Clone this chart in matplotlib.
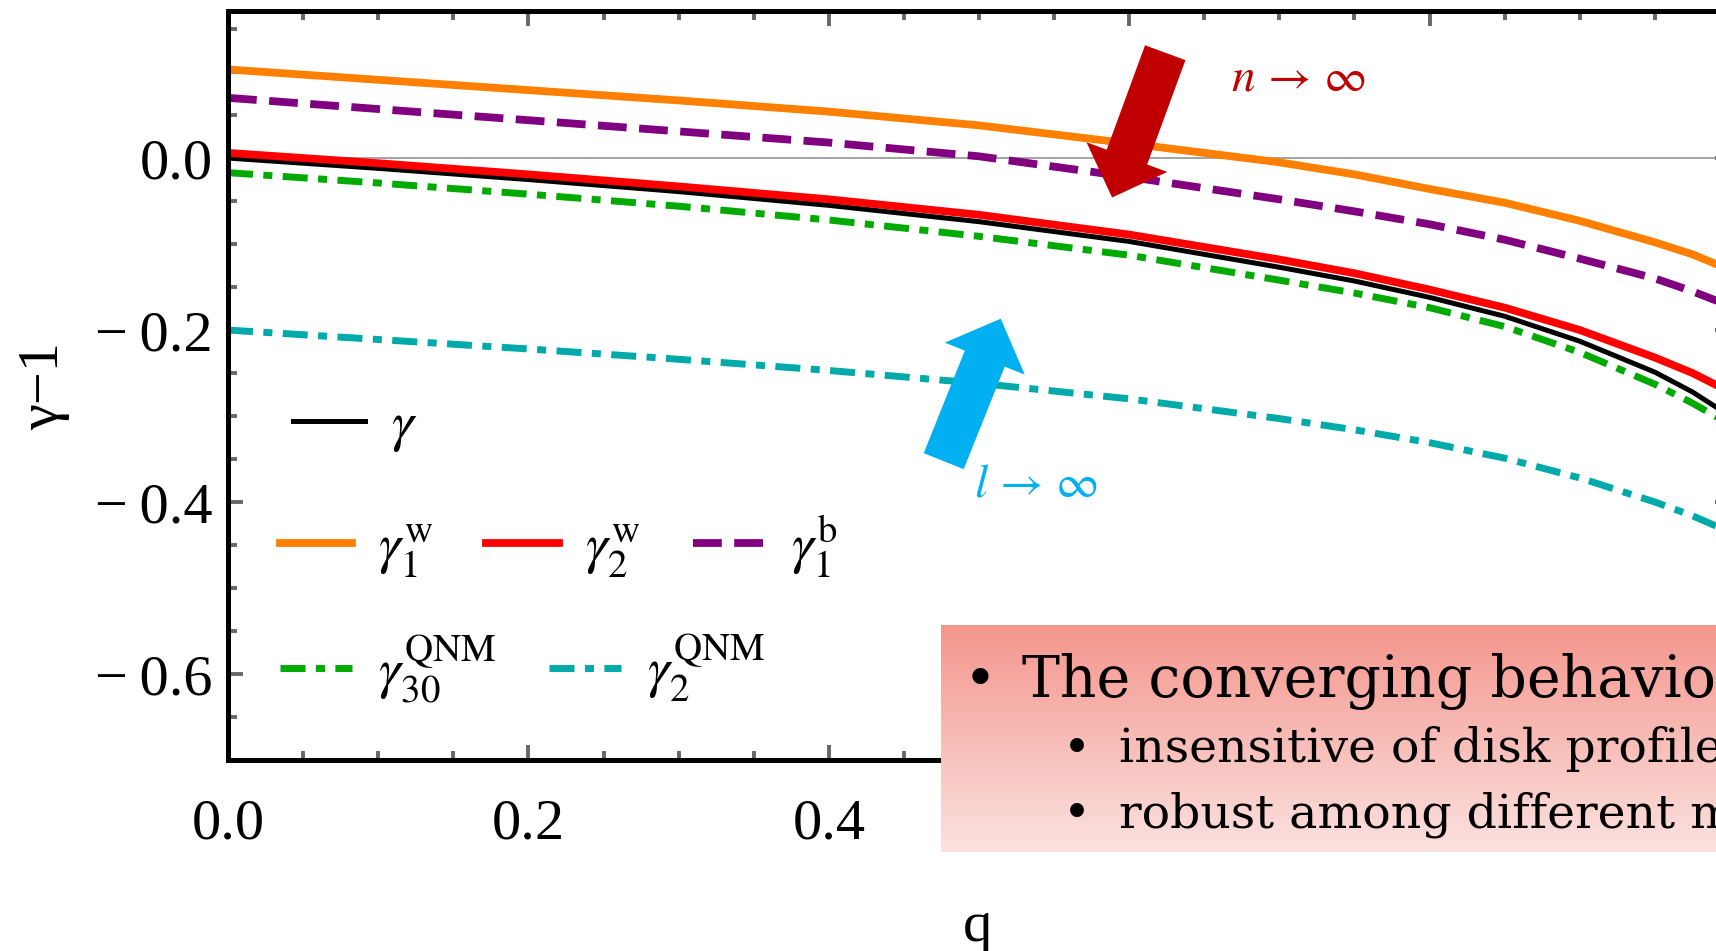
import numpy as np
import matplotlib.pyplot as plt
from matplotlib.ticker import MultipleLocator

plt.rcParams['font.family'] = ['Liberation Serif', 'DejaVu Serif']
plt.rcParams['mathtext.fontset'] = 'stix'

# values
q = [0.0, 0.1, 0.2, 0.3, 0.4, 0.5, 0.6, 0.7, 0.75, 0.8, 0.85, 0.9, 0.95, 0.975, 1.0]
gamma = [0.000, -0.012, -0.025, -0.039, -0.055, -0.074, -0.097, -0.127, -0.143, -0.162, -0.184, -0.213, -0.249, -0.272, -0.300]
gamma_w1 = [0.103, 0.091, 0.079, 0.067, 0.054, 0.038, 0.017, -0.005, -0.019, -0.036, -0.052, -0.073, -0.098, -0.112, -0.130]
gamma_w2 = [0.006, -0.006, -0.019, -0.033, -0.048, -0.066, -0.089, -0.118, -0.134, -0.153, -0.174, -0.200, -0.232, -0.250, -0.272]
gamma_b1 = [0.070, 0.057, 0.044, 0.031, 0.018, 0.002, -0.022, -0.048, -0.062, -0.077, -0.095, -0.117, -0.140, -0.155, -0.172]
gamma_qnm30 = [-0.017, -0.029, -0.042, -0.056, -0.072, -0.091, -0.113, -0.142, -0.157, -0.174, -0.196, -0.226, -0.263, -0.285, -0.310]
gamma_qnm2 = [-0.200, -0.211, -0.222, -0.234, -0.247, -0.262, -0.280, -0.303, -0.316, -0.331, -0.349, -0.372, -0.400, -0.416, -0.435]

# labels past 0.4 sit under the note box in the reference
x_ticks = [0.0, 0.2, 0.4, 0.6, 0.8, 1.0]
x_tick_labels = ["0.0", "0.2", "0.4", "", "", ""]
y_ticks = [-0.6, -0.4, -0.2, 0.0]
y_tick_labels = ["\u2212\u20090.6", "\u2212\u20090.4", "\u2212\u20090.2", "0.0"]

bullets = ["The converging behavior is", "insensitive of disk profiles", "robust among different modes"]

fig = plt.figure(figsize=(17.16, 9.51), dpi=100)
ax = fig.add_axes([228 / 1716, 191 / 951, 1502 / 1716, 749 / 951])

ax.axhline(0, color='#8a8a8a', lw=1.1, zorder=0.5)

l_g, = ax.plot(q, gamma, color='black', lw=3.6, label=r'$\gamma$')
l_w1, = ax.plot(q, gamma_w1, color='#FF7F00', lw=5.6, label=r'$\gamma_1^{\mathrm{w}}$')
l_w2, = ax.plot(q, gamma_w2, color='#FF0000', lw=5.6, label=r'$\gamma_2^{\mathrm{w}}$')
l_b1, = ax.plot(q, gamma_b1, color='#800080', lw=5.6, dashes=(3.7, 1.6), label=r'$\gamma_1^{\mathrm{b}}$')
l_q30, = ax.plot(q, gamma_qnm30, color='#00AA00', lw=5.0, dashes=(3.6, 1.5, 1.3, 1.5), label=r'$\gamma_{30}^{\mathrm{QNM}}$')
l_q2, = ax.plot(q, gamma_qnm2, color='#00AAAA', lw=5.0, dashes=(3.6, 1.5, 1.3, 1.5), label=r'$\gamma_{2}^{\mathrm{QNM}}$')

ax.set_xlim(0, 1)
ax.set_ylim(-0.7, 0.171)
ax.set_xticks(x_ticks, x_tick_labels)
ax.set_yticks(y_ticks, y_tick_labels)
ax.xaxis.set_minor_locator(MultipleLocator(0.05))
ax.yaxis.set_minor_locator(MultipleLocator(0.05))
ax.tick_params(which='both', direction='in', color='#666666', top=True, right=True, labelsize=42)
ax.tick_params(which='major', length=11, width=2.8)
ax.tick_params(which='minor', length=6.5, width=2.8)
ax.tick_params(axis='x', pad=28)
ax.tick_params(axis='y', pad=11)
for s in ax.spines.values():
    s.set_linewidth(3.6)

# legend rows
leg_kw = dict(frameon=False, fontsize=40, handlelength=1.3, handletextpad=0.47,
              columnspacing=0.95, borderpad=0, borderaxespad=0, loc='center left',
              bbox_transform=fig.transFigure)
leg1 = ax.legend(handles=[l_g], bbox_to_anchor=(293 / 1716, 1 - 427 / 951), **leg_kw)
ax.add_artist(leg1)
leg2 = ax.legend(handles=[l_w1, l_w2, l_b1], ncol=3, bbox_to_anchor=(280 / 1716, 1 - 547 / 951), **leg_kw)
ax.add_artist(leg2)
leg3 = ax.legend(handles=[l_q30, l_q2], ncol=2, bbox_to_anchor=(280 / 1716, 1 - 668 / 951), **leg_kw)

# arrows and their notes
ax.annotate('', xy=(0.5886, -0.0459), xytext=(0.624, 0.1225),
            arrowprops=dict(arrowstyle='simple,head_length=31,head_width=62,tail_width=31',
                            fc='#C00000', ec='none', shrinkA=0, shrinkB=0, mutation_scale=1))
ax.annotate('', xy=(0.5145, -0.1868), xytext=(0.4765, -0.3525),
            arrowprops=dict(arrowstyle='simple,head_length=31,head_width=62,tail_width=31',
                            fc='#00B0F0', ec='none', shrinkA=0, shrinkB=0, mutation_scale=1))
fig.text(1298 / 1716, 1 - 79 / 951, r'$n\,\rightarrow\,\infty$', color='#C00000', fontsize=34, ha='center', va='center')
fig.text(1036 / 1716, 1 - 485 / 951, r'$l\,\rightarrow\,\infty$', color='#00B0F0', fontsize=34, ha='center', va='center')

fig.text(44 / 1716, 1 - 386 / 951, '\u03b3\u22121', rotation=90, fontsize=42, ha='center', va='center')
fig.text(977 / 1716, 1 - 927 / 951, 'q', fontsize=42, ha='center', va='center')

# gradient note box
box = fig.add_axes([941 / 1716, 1 - 852 / 951, 775 / 1716, 227 / 951])
top_c = np.array([244, 150, 141]) / 255
bot_c = np.array([251, 226, 224]) / 255
t = np.linspace(0, 1, 256)[:, None, None]
grad = top_c[None, None, :] * (1 - t) + bot_c[None, None, :] * t
box.imshow(np.repeat(grad, 2, axis=1), aspect='auto', extent=[0, 1, 0, 1])
box.set_axis_off()
box.set_zorder(5)
box.text(0.050, 0.683, '\u2022', fontsize=40, family='DejaVu Serif', ha='center', va='baseline', clip_on=True)
box.text(0.1045, 0.683, bullets[0], fontsize=41, family='DejaVu Serif', ha='left', va='baseline', clip_on=True)
for yy, txt in zip([0.396, 0.110], bullets[1:]):
    box.text(0.175, yy, '\u2022', fontsize=34, family='DejaVu Serif', ha='center', va='baseline', clip_on=True)
    box.text(0.2297, yy, txt, fontsize=34, family='DejaVu Serif', ha='left', va='baseline', clip_on=True)

fig.savefig('out.png', dpi=100)
